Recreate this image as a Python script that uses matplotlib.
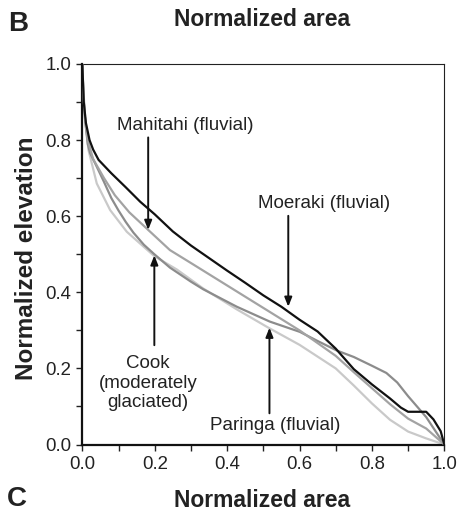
import matplotlib
matplotlib.use("Agg")
import matplotlib.pyplot as plt
from matplotlib.ticker import MultipleLocator

plt.rcParams['font.family'] = ['Liberation Sans', 'DejaVu Sans']

# Hypsometric curves: normalized area (x) vs normalized elevation (y)
moeraki_x = [0, 0.004, 0.01, 0.02, 0.03, 0.045, 0.08, 0.12, 0.16, 0.2, 0.25, 0.3, 0.35,
             0.4, 0.45, 0.5, 0.55, 0.6, 0.65, 0.7, 0.75, 0.8, 0.85, 0.88, 0.9, 0.95,
             0.97, 0.99, 1.0]
moeraki_y = [1.0, 0.9, 0.845, 0.80, 0.775, 0.748, 0.713, 0.676, 0.638, 0.605, 0.56, 0.523,
             0.49, 0.457, 0.425, 0.392, 0.362, 0.328, 0.297, 0.252, 0.198, 0.158, 0.121,
             0.097, 0.086, 0.086, 0.066, 0.035, 0.0]

mahitahi_x = [0, 0.003, 0.008, 0.015, 0.03, 0.06, 0.09, 0.13, 0.182, 0.242, 0.3, 0.4,
              0.5, 0.6, 0.7, 0.75, 0.8, 0.85, 0.9, 0.95, 1.0]
mahitahi_y = [1.0, 0.92, 0.85, 0.80, 0.75, 0.70, 0.655, 0.61, 0.564, 0.511, 0.477, 0.418,
              0.359, 0.30, 0.233, 0.19, 0.148, 0.106, 0.068, 0.042, 0.0]

cook_x = [0, 0.003, 0.008, 0.015, 0.022, 0.04, 0.06, 0.08, 0.1, 0.12, 0.141, 0.17, 0.199,
          0.242, 0.3, 0.334, 0.427, 0.518, 0.601, 0.65, 0.703, 0.75, 0.8, 0.84, 0.87,
          0.9, 0.95, 1.0]
cook_y = [1.0, 0.92, 0.85, 0.79, 0.765, 0.73, 0.69, 0.648, 0.615, 0.585, 0.557, 0.525,
          0.50, 0.465, 0.428, 0.408, 0.362, 0.323, 0.296, 0.272, 0.247, 0.23, 0.207,
          0.188, 0.163, 0.127, 0.072, 0.0]

paringa_x = [0, 0.003, 0.008, 0.017, 0.04, 0.077, 0.123, 0.199, 0.261, 0.334, 0.427,
             0.514, 0.6, 0.7, 0.75, 0.8, 0.85, 0.9, 0.95, 1.0]
paringa_y = [1.0, 0.93, 0.86, 0.774, 0.686, 0.616, 0.559, 0.495, 0.46, 0.41, 0.355,
             0.307, 0.262, 0.20, 0.155, 0.108, 0.065, 0.034, 0.016, 0.0]

W, H = 458, 512
fig = plt.figure(figsize=(W / 100, H / 100), dpi=100)
ax = fig.add_axes([82.3 / W, 1 - 444.5 / H, 362 / W, 380.5 / H])

lw = 1.6
ax.plot(paringa_x, paringa_y, color='#c9c9c9', lw=lw, solid_joinstyle='round', zorder=2)
ax.plot(cook_x, cook_y, color='#8c8c8c', lw=lw, solid_joinstyle='round', zorder=3)
ax.plot(mahitahi_x, mahitahi_y, color='#a3a3a3', lw=lw, solid_joinstyle='round', zorder=3)
ax.plot(moeraki_x, moeraki_y, color='#111111', lw=lw, solid_joinstyle='round', zorder=4)

ax.set_xlim(0, 1)
ax.set_ylim(0, 1)
ax.xaxis.set_major_locator(MultipleLocator(0.2))
ax.xaxis.set_minor_locator(MultipleLocator(0.1))
ax.yaxis.set_major_locator(MultipleLocator(0.2))
ax.yaxis.set_minor_locator(MultipleLocator(0.1))
ax.xaxis.set_major_formatter(plt.FuncFormatter(lambda v, p: f"{v:.1f}"))
ax.yaxis.set_major_formatter(plt.FuncFormatter(lambda v, p: f"{v:.1f}"))

ax.tick_params(which='both', direction='out', length=4.5, width=1.0, color='#222222',
               top=False, right=False, labelsize=13.4, labelcolor='#222222', pad=3.5)

for side in ('left', 'bottom'):
    ax.spines[side].set_linewidth(1.6)
    ax.spines[side].set_color('#111111')
for side in ('top', 'right'):
    ax.spines[side].set_linewidth(0.8)
    ax.spines[side].set_color('#222222')

ax.set_ylabel('Normalized elevation', fontsize=17.5, fontweight='bold', color='#222222')
ax.yaxis.set_label_coords((38.5 - 82.3) / 362, 0.489)

# Panel letters and axis titles
fig.text(8 / W, 1 - 30.7 / H, 'B', fontsize=20, fontweight='bold', color='#222222',
         ha='left', va='baseline')
fig.text(262.5 / W, 1 - 26 / H, 'Normalized area', fontsize=16.5, fontweight='bold',
         color='#222222', ha='center', va='baseline')
fig.text(6.7 / W, 1 - 511.8 / H, 'C', fontsize=20, fontweight='bold', color='#222222',
         ha='left', va='bottom')
fig.text(262.5 / W, 1 - 511.8 / H, 'Normalized area', fontsize=16.5, fontweight='bold',
         color='#222222', ha='center', va='bottom')

# Curve labels with arrows
arrow_kw = dict(arrowstyle='-|>,head_length=0.55,head_width=0.22', color='#111111',
                lw=1.4, shrinkA=0, shrinkB=0)
txt_kw = dict(fontsize=13.5, color='#222222')

ax.text(0.2837, 0.8265, 'Mahitahi (fluvial)', ha='center', va='baseline', **txt_kw)
ax.annotate('', xy=(0.182, 0.564), xytext=(0.182, 0.807), arrowprops=arrow_kw)

ax.text(0.667, 0.6205, 'Moeraki (fluvial)', ha='center', va='baseline', **txt_kw)
ax.annotate('', xy=(0.569, 0.362), xytext=(0.569, 0.601), arrowprops=arrow_kw)

ax.text(0.1815, 0.1616, 'Cook\n(moderately\nglaciated)', ha='center', va='center',
        multialignment='center', linespacing=1.2, **txt_kw)
ax.annotate('', xy=(0.199, 0.497), xytext=(0.199, 0.261), arrowprops=arrow_kw)

ax.text(0.532, 0.038, 'Paringa (fluvial)', ha='center', va='baseline', **txt_kw)
ax.annotate('', xy=(0.517, 0.307), xytext=(0.517, 0.082), arrowprops=arrow_kw)

fig.savefig('out.png', dpi=100)
